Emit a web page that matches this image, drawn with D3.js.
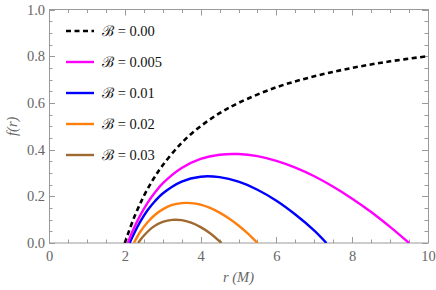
<!DOCTYPE html>
<html><head><meta charset="utf-8">
<script src="https://cdn.jsdelivr.net/npm/d3@7/dist/d3.min.js"></script>
<style>body{margin:0;background:#fff}svg{display:block}</style>
</head><body>
<svg id="chart" width="436" height="290"></svg>
<script>
// ---- data ----
const seriesNames = ["ℬ = 0.00", "ℬ = 0.005", "ℬ = 0.01", "ℬ = 0.02", "ℬ = 0.03"];
const rB000 = [2, 2.25, 2.5, 2.75, 3, 3.5, 4, 4.5, 5, 6, 7, 8, 9, 10];
const fB000 = [0, 0.111, 0.2, 0.273, 0.333, 0.429, 0.5, 0.556, 0.6, 0.667, 0.714, 0.75, 0.778, 0.8];
const rB005 = [2.08, 2.2, 2.4, 2.6, 2.8, 3.0, 3.5, 4, 4.5, 5, 5.5, 6, 6.5, 7, 7.5, 8, 8.5, 9, 9.5];
const fB005 = [0, 0.049, 0.116, 0.172, 0.217, 0.255, 0.321, 0.36, 0.378, 0.381, 0.372, 0.352, 0.323, 0.286, 0.241, 0.19, 0.133, 0.069, 0];
const rB01 = [2.13, 2.2, 2.4, 2.6, 2.8, 3.0, 3.5, 4, 4.5, 5, 5.5, 6, 6.5, 7, 7.32];
const fB01 = [0, 0.026, 0.089, 0.14, 0.18, 0.212, 0.263, 0.284, 0.282, 0.263, 0.228, 0.181, 0.122, 0.053, 0];
const rB02 = [2.24, 2.4, 2.6, 2.8, 3.0, 3.25, 3.5, 3.75, 4.0, 4.25, 4.5, 4.75, 5.0, 5.25, 5.5];
const fB02 = [0, 0.046, 0.089, 0.121, 0.144, 0.163, 0.171, 0.171, 0.164, 0.15, 0.13, 0.105, 0.075, 0.04, 0];
const rB03 = [2.35, 2.5, 2.75, 3.0, 3.25, 3.5, 3.75, 4.0, 4.25, 4.55];
const fB03 = [0, 0.031, 0.069, 0.09, 0.099, 0.098, 0.087, 0.068, 0.042, 0];
const xTickValues = [0, 2, 4, 6, 8, 10];
const yTickValues = [0.0, 0.2, 0.4, 0.6, 0.8, 1.0];

// ---- styles ----
const seriesColors = ["#000000", "#ff00ff", "#0000ff", "#ff7f0e", "#a0692f"];
const seriesX = [rB000, rB005, rB01, rB02, rB03];
const seriesY = [fB000, fB005, fB01, fB02, fB03];

const svg = d3.select("#chart");
const L = 49, R = 428, T = 9.5, B = 243;
const x = d3.scaleLinear().domain([0, 10]).range([L, R]);
const y = d3.scaleLinear().domain([0, 1]).range([B, T]);
const serif = "'Liberation Serif','DejaVu Serif',serif";
const axisGray = "#9a9a9a";
const labelGray = "#666";

svg.append("defs").append("clipPath").attr("id", "clip")
  .append("rect").attr("x", L).attr("y", T).attr("width", R - L).attr("height", B - T);

// ticks (inside, all four sides)
const minorX = d3.range(0, 10.001, 0.5);
const minorY = d3.range(0, 1.0001, 0.05);
const tg = svg.append("g").attr("stroke", axisGray).attr("stroke-width", 1);
minorX.forEach(v => {
  const major = Math.abs(v / 2 - Math.round(v / 2)) < 1e-6;
  const len = major ? 6 : 3.5;
  const px = Math.round(x(v)) + 0.5;
  tg.append("line").attr("x1", px).attr("x2", px).attr("y1", B).attr("y2", B - len);
  tg.append("line").attr("x1", px).attr("x2", px).attr("y1", T).attr("y2", T + len);
});
minorY.forEach(v => {
  const major = Math.abs(v / 0.2 - Math.round(v / 0.2)) < 1e-6;
  const len = major ? 6 : 3.5;
  const py = Math.round(y(v)) + 0.5;
  tg.append("line").attr("x1", L).attr("x2", L + len).attr("y1", py).attr("y2", py);
  tg.append("line").attr("x1", R).attr("x2", R - len).attr("y1", py).attr("y2", py);
});

// frame
svg.append("rect").attr("x", L + 0.5).attr("y", T).attr("width", R - L).attr("height", B - T)
  .attr("fill", "none").attr("stroke", axisGray).attr("stroke-width", 1);

// tick labels via d3 axes (lines hidden)
const xAxis = svg.append("g").attr("transform", `translate(0,${B})`)
  .call(d3.axisBottom(x).tickValues(xTickValues).tickFormat(d3.format("d")).tickSize(0).tickPadding(8));
const yAxis = svg.append("g").attr("transform", `translate(${L},0)`)
  .call(d3.axisLeft(y).tickValues(yTickValues).tickFormat(d3.format(".1f")).tickSize(0).tickPadding(4));
[xAxis, yAxis].forEach(a => {
  a.select(".domain").remove();
  a.selectAll("text").attr("font-family", serif).attr("font-size", 14.5).attr("fill", labelGray);
});

// curves
const line = d3.line().x(d => x(d[0])).y(d => y(d[1])).curve(d3.curveCatmullRom.alpha(0.5));
const cg = svg.append("g").attr("clip-path", "url(#clip)");
for (let i = seriesX.length - 1; i >= 0; i--) {
  const pts = seriesX[i].map((r, j) => [r, seriesY[i][j]]);
  const p = cg.append("path").datum(pts).attr("d", line)
    .attr("fill", "none").attr("stroke", seriesColors[i])
    .attr("stroke-width", i === 0 ? 2.6 : 2.4);
  if (i === 0) p.attr("stroke-dasharray", "5,3.5");
}

// legend
const lg = svg.append("g");
seriesNames.forEach((name, i) => {
  const yy = 31 + i * 31;
  const l = lg.append("line").attr("x1", 66).attr("x2", 94).attr("y1", yy).attr("y2", yy)
    .attr("stroke", seriesColors[i]).attr("stroke-width", i === 0 ? 2.6 : 2.4);
  if (i === 0) l.attr("stroke-dasharray", "5,3.5");
  lg.append("text").attr("x", 102).attr("y", yy + 5).text(name)
    .attr("font-family", serif).attr("font-size", 14.5).attr("fill", "#111");
});

// axis titles
svg.append("text").attr("x", (L + R) / 2).attr("y", 282).attr("text-anchor", "middle")
  .attr("font-family", serif).attr("font-style", "italic").attr("font-size", 14.5).attr("fill", labelGray)
  .text("r (M)");
svg.append("text").attr("transform", `translate(17,${(T + B) / 2}) rotate(-90)`).attr("text-anchor", "middle")
  .attr("font-family", serif).attr("font-style", "italic").attr("font-size", 14.5).attr("fill", labelGray)
  .text("f(r)");
</script>
</body></html>
